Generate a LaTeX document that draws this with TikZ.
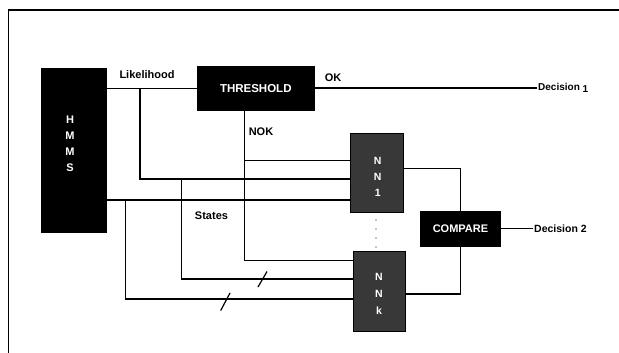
\documentclass[tikz,border=0pt]{standalone}
\usepackage{fontspec}
\setmainfont{Liberation Sans}
\usepackage{tikz}
\usetikzlibrary{positioning, calc}

\begin{document}
\begin{tikzpicture}[x=1pt, y=-1pt,
			blk/.style={rectangle, draw=black, fill=black, inner sep=0pt},
			nnbox/.style={rectangle, draw=black, fill=black!78, inner sep=0pt},
			txt/.style={font=\fontsize{11}{13}\selectfont\bfseries},
			wtxt/.style={txt, text=white, align=center},
			stack/.style={wtxt, font=\fontsize{10.5}{16}\selectfont\bfseries},
			wire/.style={draw=black, line width=1.3pt}
			]
			\useasboundingbox (0,0) rectangle (619,353);
			% frame
			\draw[line width=1.4pt] (8.7,353) -- (8.7,10) -- (619,10);
			
			% blocks
			\node[blk, minimum width=65pt, minimum height=164pt] (hmms) at (74,150.3) {};
			\node[stack, font=\fontsize{11}{16}\selectfont\bfseries] (hmmstxt) at (70,144) {H\\M\\M\\S};
			\node[blk, minimum width=117.6pt, minimum height=44pt, wtxt, font=\fontsize{11.5}{13}\selectfont\bfseries] (thr) at (255.8,88.7) {THRESHOLD};
			\node[nnbox, minimum width=52.7pt, minimum height=78.4pt] (nn1) at (377,172.5) {};
			\node[stack] (nn1txt) at (377.7,177) {N\\N\\1};
			\node[nnbox, minimum width=52.5pt, minimum height=79.3pt] (nnk) at (379.2,291.3) {};
			\node[stack, font=\fontsize{10.5}{17}\selectfont\bfseries] (nnktxt) at (379,294) {N\\N\\k};
			\node[blk, minimum width=80pt, minimum height=34.3pt, wtxt] (cmp) at (460.5,228.8) {COMPARE};
			
			% junctions
			\coordinate (likj) at (140,88.7);
			\coordinate (likd) at (181.6,179);
			\coordinate (nokj) at (244.8,110.7);
			\coordinate (stj) at (125.5,200);
			\coordinate (dec1) at (537,88);
			\coordinate (dec2) at (533,228.8);
			
			% likelihood
			\draw[wire] (hmms.east |- thr.west) -- (thr.west);
			\draw[wire] (likj) |- (nn1.west |- likd);
			\draw[wire] (likd) |- (nnk.west |- 0,279);
			% threshold outputs
			\draw[wire] (thr.east |- dec1) -- (dec1);
			\draw[wire] (nokj) |- (nn1.west |- 0,160.7);
			\draw[wire] (nokj) |- (nnk.west |- 0,260.7);
			% states
			\draw[wire] (hmms.east |- stj) -- (nn1.west |- stj);
			\draw[wire] (stj) |- (nnk.west |- 0,299);
			% bus marks
			\draw[line width=1.2pt] (258,287) -- (267,271.5);
			\draw[line width=1.2pt] (220.7,310.5) -- (230,293);
			
			% nets to compare
			\draw[wire] (nn1.east |- 0,168.3) -| (cmp.north);
			\draw[wire] (nnk.east |- 0,294) -| (cmp.south);
			\draw[wire] (cmp.east) -- (dec2);
			\draw[line width=1.3pt, line cap=round, dash pattern=on 0pt off 9pt] (376,220) -- (376,248);
			
			% labels
			\node[txt] (liklbl) at (147,75) {Likelihood};
			\node[txt] (oklbl) at (333,78) {OK};
			\node[txt] (noklbl) at (261,131.7) {NOK};
			\node[txt] (stlbl) at (211.5,215.7) {States};
			\node[txt, font=\fontsize{10}{12}\selectfont\bfseries, anchor=west, inner sep=1pt] (dec1lbl) at (dec1) {Decision~\raisebox{-2pt}{1}};
			\node[txt, font=\fontsize{10.5}{12}\selectfont\bfseries, anchor=west, inner sep=1pt] (dec2lbl) at (dec2) {Decision 2};
		\end{tikzpicture}
\end{document}
